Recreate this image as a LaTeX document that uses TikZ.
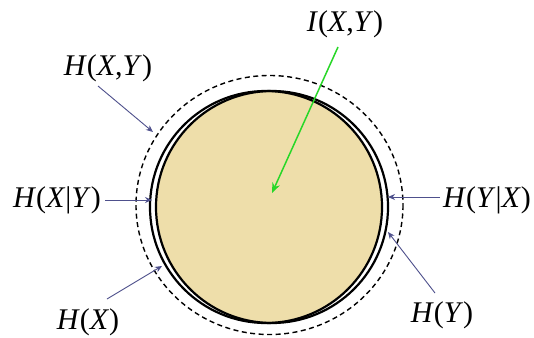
\documentclass[tikz,border=0pt]{standalone}
\usepackage{fontspec}
\setmainfont{Liberation Serif}
\usetikzlibrary{arrows.meta}
\definecolor{tanfill}{RGB}{238,222,170}
\definecolor{ptrblue}{RGB}{78,80,140}
\definecolor{ptrgreen}{RGB}{40,215,40}
\tikzset{
  lbl/.style={inner sep=0pt, font=\fontsize{30}{32}\selectfont},
  ptr/.style={draw=ptrblue, line width=0.9pt, -{Stealth[length=7pt,width=6pt]}},
  gptr/.style={draw=ptrgreen, line width=1.5pt, -{Stealth[length=10pt,width=8pt]}},
  ring/.style={draw=black, line width=2.2pt},
  dashring/.style={draw=black, line width=1.4pt, dash pattern=on 5pt off 3.5pt}
}
\begin{document}
\begin{tikzpicture}[x=1pt,y=-1pt]
\useasboundingbox (0,0) rectangle (534,337);
\fill[white] (0,0) rectangle (534,337);
% circles
\coordinate (cx) at (266,207);
\coordinate (cy) at (272,207);
\begin{scope}
  \clip (cx) circle (116);
  \fill[tanfill] (cy) circle (116);
\end{scope}
\draw[ring] (cx) circle (116);
\draw[ring] (cy) circle (116);
\draw[dashring] (269.5,205) ellipse (133.5 and 129.5);
% labels
\node[lbl] (ixy) at (345,24) {\textit{I}(\textit{X},\textit{Y})};
\node[lbl] (hxy) at (108,68) {\textit{H}(\textit{X},\textit{Y})};
\node[lbl] (hxgy) at (57,200) {\textit{H}(\textit{X}|\textit{Y})};
\node[lbl] (hx) at (88,322) {\textit{H}(\textit{X})};
\node[lbl] (hygx) at (487,200) {\textit{H}(\textit{Y}|\textit{X})};
\node[lbl] (hy) at (442,315) {\textit{H}(\textit{Y})};
% arrow ends
\coordinate (gs) at (338,47);
\coordinate (ge) at (272,193);
\coordinate (s1) at (98,86);   \coordinate (e1) at (153,132);
\coordinate (s2) at (105,200); \coordinate (e2) at (152,200);
\coordinate (s3) at (107,299); \coordinate (e3) at (162,266);
\coordinate (s4) at (440,197); \coordinate (e4) at (388,197);
\coordinate (s5) at (435,293); \coordinate (e5) at (388,232);
\draw[gptr] (gs) -- (ge);
\draw[ptr] (s1) -- (e1);
\draw[ptr] (s2) -- (e2);
\draw[ptr] (s3) -- (e3);
\draw[ptr] (s4) -- (e4);
\draw[ptr] (s5) -- (e5);
\end{tikzpicture}
\end{document}
